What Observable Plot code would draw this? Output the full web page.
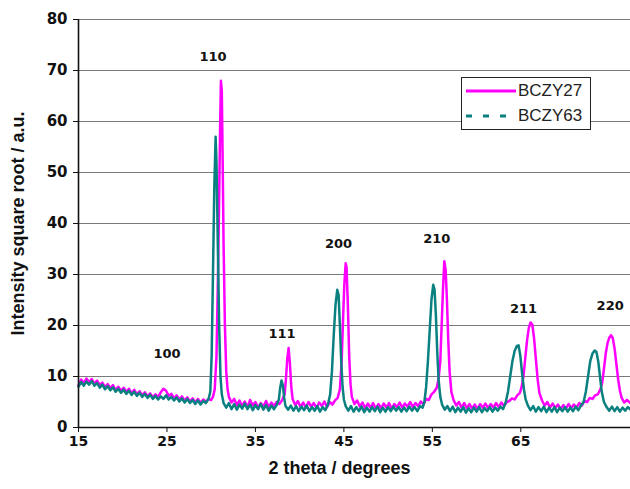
<!DOCTYPE html>
<html>
<head>
<meta charset="utf-8">
<script src="https://cdn.jsdelivr.net/npm/d3@7"></script>
<script src="https://cdn.jsdelivr.net/npm/@observablehq/plot@0.6"></script>
<style>
  html, body { margin: 0; padding: 0; background: #fff; }
  #wrap { position: relative; width: 630px; height: 489px; overflow: hidden; }
  #legend { position: absolute; left: 461px; top: 77px; width: 128px; height: 51px; border: 1px solid #222; background: #fff; font: 17px "Liberation Sans", Arial, sans-serif; color: #222; }
  #legend .row { position: absolute; left: 0; height: 20px; display: flex; align-items: center; }
  #legend svg { display: block; }
</style>
</head>
<body>
<div id="wrap">
  <div id="chart"></div>
  <div id="legend"></div>
</div>
<script>
// ---- data ----
const seriesNames = ["BCZY27", "BCZY63"];
const seriesColors = ["#ff00ff", "#0a8080"];

const bczy27 = [
  [15.0,8.3],[15.3,9.4],[15.6,8.7],[15.9,9.6],[16.2,8.9],[16.5,9.5],[16.8,8.6],[17.1,9.2],[17.4,8.3],[17.7,8.8],
  [18.0,7.9],[18.3,8.5],[18.6,7.7],[18.9,8.3],[19.2,7.4],[19.5,8.0],[19.8,7.2],[20.1,7.8],[20.4,7.0],[20.7,7.6],
  [21.0,6.7],[21.3,7.4],[21.6,6.5],[21.9,7.1],[22.2,6.3],[22.5,6.9],[22.8,6.1],[23.1,6.7],[23.4,5.9],[23.7,6.5],
  [24.0,6.0],[24.3,6.9],[24.6,7.6],[24.9,7.2],[25.2,6.2],[25.5,6.6],[25.8,5.7],[26.1,6.3],[26.4,5.5],[26.7,6.1],
  [27.0,5.3],[27.3,5.9],[27.6,5.1],[27.9,5.7],[28.2,4.9],[28.5,5.6],[28.8,4.8],[29.1,5.5],[29.4,5.0],[29.7,5.6],
  [30.0,5.4],[30.2,6.0],[30.4,7.5],[30.6,14],[30.75,28],[30.9,45],[31.0,58],[31.1,68],[31.2,66],[31.3,52],
  [31.4,36],[31.55,20],[31.7,11],[31.85,7.5],[32.0,6.0],[32.3,4.9],[32.6,5.6],[32.9,4.4],[33.2,5.3],[33.5,4.2],
  [33.8,5.1],[34.1,4.0],[34.4,5.4],[34.7,4.3],[35.0,5.0],[35.3,3.9],[35.6,4.8],[35.9,4.1],[36.2,5.2],[36.5,4.0],
  [36.8,4.9],[37.1,4.2],[37.4,5.0],[37.7,4.6],[38.0,5.3],[38.3,6.5],[38.45,9.5],[38.6,13.5],[38.75,15.6],[38.9,12.5],
  [39.05,8.0],[39.2,5.6],[39.5,4.4],[39.8,5.2],[40.1,4.0],[40.4,4.9],[40.7,3.9],[41.0,5.0],[41.3,4.1],[41.6,4.8],
  [41.9,3.8],[42.2,4.9],[42.5,4.2],[42.8,5.1],[43.1,4.0],[43.4,5.0],[43.7,4.5],[44.0,5.3],[44.3,5.8],[44.55,7.5],
  [44.75,13],[44.9,21],[45.05,28],[45.2,32.2],[45.3,31.5],[45.45,24],[45.6,14],[45.75,8.5],[45.9,6.0],[46.2,4.6],
  [46.5,5.3],[46.8,4.1],[47.1,4.9],[47.4,3.8],[47.7,4.7],[48.0,3.9],[48.3,4.8],[48.6,3.7],[48.9,4.6],[49.2,3.8],
  [49.5,4.7],[49.8,3.9],[50.1,4.8],[50.4,3.7],[50.7,4.6],[51.0,4.0],[51.3,4.9],[51.6,3.9],[51.9,4.7],[52.2,4.1],
  [52.5,5.0],[52.8,4.0],[53.1,4.8],[53.4,4.2],[53.7,5.1],[54.0,4.5],[54.3,5.6],[54.6,5.4],[54.9,6.5],[55.2,7.0],
  [55.5,7.8],[55.7,9.5],[55.9,13],[56.05,20],[56.2,27],[56.35,32.6],[56.5,31],[56.65,25],[56.8,17],[56.95,11],
  [57.15,7],[57.4,5.4],[57.7,4.3],[58.0,5.0],[58.3,3.9],[58.6,4.8],[58.9,3.8],[59.2,4.6],[59.5,3.7],[59.8,4.5],
  [60.1,3.6],[60.4,4.6],[60.7,3.9],[61.0,4.7],[61.3,3.8],[61.6,4.6],[61.9,3.9],[62.2,4.8],[62.5,4.0],[62.8,4.9],
  [63.1,4.2],[63.4,5.0],[63.7,5.2],[64.0,5.7],[64.3,5.5],[64.6,6.3],[64.9,6.8],[65.1,8.0],[65.3,10],[65.5,13.5],
  [65.7,17],[65.9,19.5],[66.1,20.6],[66.3,20.2],[66.5,17.5],[66.7,13.5],[66.9,9.5],[67.1,6.8],[67.4,5.3],[67.7,4.3],
  [68.0,5.0],[68.3,3.9],[68.6,4.7],[68.9,3.8],[69.2,4.5],[69.5,3.6],[69.8,4.4],[70.1,3.7],[70.4,4.6],[70.7,3.8],
  [71.0,4.5],[71.3,3.9],[71.6,4.8],[71.9,4.3],[72.2,5.2],[72.5,5.0],[72.8,5.8],[73.1,5.6],[73.4,6.3],[73.7,6.5],
  [74.0,7.5],[74.2,8.8],[74.4,11.5],[74.6,14.5],[74.8,16.5],[75.0,17.6],[75.2,18.1],[75.4,17.5],[75.6,15.5],[75.8,12.5],
  [76.0,9.5],[76.2,7.2],[76.4,5.8],[76.7,4.9],[77.0,5.4],[77.4,4.8]
];

const bczy63 = [
  [15.0,8.0],[15.3,8.9],[15.6,8.2],[15.9,9.0],[16.2,8.4],[16.5,9.1],[16.8,8.2],[17.1,8.7],[17.4,7.8],[17.7,8.4],
  [18.0,7.5],[18.3,8.1],[18.6,7.3],[18.9,7.9],[19.2,7.0],[19.5,7.6],[19.8,6.8],[20.1,7.4],[20.4,6.6],[20.7,7.2],
  [21.0,6.4],[21.3,7.0],[21.6,6.2],[21.9,6.8],[22.2,6.0],[22.5,6.6],[22.8,5.8],[23.1,6.4],[23.4,5.6],[23.7,6.2],
  [24.0,5.5],[24.3,6.1],[24.6,5.6],[24.9,6.3],[25.2,5.5],[25.5,6.0],[25.8,5.3],[26.1,5.9],[26.4,5.1],[26.7,5.7],
  [27.0,4.9],[27.3,5.6],[27.6,4.8],[27.9,5.4],[28.2,4.6],[28.5,5.3],[28.8,4.5],[29.1,5.2],[29.4,4.8],[29.7,5.6],
  [29.9,7],[30.05,14],[30.2,30],[30.35,47],[30.5,57],[30.6,52],[30.75,36],[30.9,20],[31.05,10],[31.2,6.5],
  [31.4,4.8],[31.7,3.9],[32.0,4.8],[32.3,3.6],[32.6,4.6],[32.9,3.5],[33.2,4.5],[33.5,3.7],[33.8,4.7],[34.1,3.6],
  [34.4,4.5],[34.7,3.4],[35.0,4.4],[35.3,3.6],[35.6,4.6],[35.9,3.5],[36.2,4.4],[36.5,3.3],[36.8,4.3],[37.1,3.6],
  [37.4,4.4],[37.65,5.5],[37.8,7.8],[37.95,9.2],[38.1,8.3],[38.25,5.8],[38.4,4.2],[38.7,3.5],[39.0,4.3],[39.3,3.3],
  [39.6,4.2],[39.9,3.2],[40.2,4.1],[40.5,3.4],[40.8,4.3],[41.1,3.2],[41.4,4.0],[41.7,3.3],[42.0,4.2],[42.3,3.1],
  [42.6,4.0],[42.9,3.4],[43.2,4.5],[43.45,6.5],[43.65,11],[43.85,18],[44.05,24],[44.25,27],[44.4,26],[44.55,20],
  [44.7,13],[44.85,8],[45.0,5.5],[45.2,4.2],[45.5,3.3],[45.8,4.2],[46.1,3.1],[46.4,4.0],[46.7,3.2],[47.0,4.1],
  [47.3,3.0],[47.6,3.9],[47.9,3.1],[48.2,4.0],[48.5,3.2],[48.8,4.1],[49.1,3.0],[49.4,3.9],[49.7,3.1],[50.0,4.0],
  [50.3,3.2],[50.6,4.1],[50.9,3.3],[51.2,4.0],[51.5,3.1],[51.8,3.9],[52.1,3.2],[52.4,4.1],[52.7,3.3],[53.0,4.0],
  [53.3,3.2],[53.6,4.2],[53.9,3.9],[54.1,5],[54.3,8],[54.5,13],[54.7,19],[54.9,25],[55.1,28],[55.25,27],
  [55.4,22],[55.55,15],[55.7,9.5],[55.9,6],[56.1,4.5],[56.4,3.5],[56.7,4.2],[57.0,3.2],[57.3,4.1],[57.6,3.0],
  [57.9,3.9],[58.2,3.1],[58.5,4.0],[58.8,2.9],[59.1,3.8],[59.4,3.0],[59.7,3.9],[60.0,3.1],[60.3,4.0],[60.6,3.0],
  [60.9,3.8],[61.2,3.2],[61.5,4.0],[61.8,3.1],[62.1,3.9],[62.4,3.3],[62.7,4.1],[63.0,3.6],[63.3,5],[63.55,7],
  [63.8,10],[64.05,13],[64.3,15],[64.55,16],[64.75,16.1],[64.95,14],[65.15,10.5],[65.35,7.5],[65.55,5.5],[65.8,4.3],
  [66.1,3.4],[66.4,4.2],[66.7,3.1],[67.0,4.0],[67.3,3.2],[67.6,4.1],[67.9,3.0],[68.2,3.9],[68.5,3.1],[68.8,4.0],
  [69.1,3.0],[69.4,3.9],[69.7,3.2],[70.0,4.0],[70.3,3.1],[70.6,3.9],[70.9,3.2],[71.2,4.1],[71.5,3.4],[71.8,4.3],
  [72.1,5],[72.35,7],[72.6,10],[72.85,13],[73.1,14.5],[73.35,15.1],[73.55,14.8],[73.75,13],[73.95,10],[74.15,7],
  [74.4,5],[74.7,4.0],[75.0,3.3],[75.3,4.1],[75.6,3.2],[75.9,4.0],[76.2,3.1],[76.5,3.9],[76.8,3.3],[77.1,4.0],[77.4,3.5]
];

const xTicks = [15, 25, 35, 45, 55, 65];
const yTicks = [0, 10, 20, 30, 40, 50, 60, 70, 80];
const gridValues = [10, 20, 30, 40, 50, 60, 70, 80];

const peakLabels = ["100", "110", "111", "200", "210", "211", "220"];
const peakX = [25.0, 30.2, 38.0, 44.4, 55.5, 65.3, 75.1];
const peakY = [14.5, 72.6, 18.4, 36.1, 37.0, 23.3, 23.9];

const xTitle = "2 theta / degrees";
const yTitle = "Intensity square root / a.u.";

// ---- build tables ----
const toRows = (arr, name) => arr.map(([x, y]) => ({x, y, series: name}));
const rows27 = toRows(bczy27, seriesNames[0]);
const rows63 = toRows(bczy63, seriesNames[1]);
const peaks = peakLabels.map((t, i) => ({t, x: peakX[i], y: peakY[i]}));

const chart = Plot.plot({
  width: 630,
  height: 489,
  marginLeft: 78,
  marginRight: 0,
  marginTop: 19,
  marginBottom: 62,
  x: {domain: [15, 77.4]},
  y: {domain: [0, 80]},
  style: {background: "#fff", fontFamily: "'Liberation Sans', Arial, sans-serif", overflow: "visible"},
  marks: [
    Plot.ruleY(gridValues, {stroke: "#7a7a7a", strokeWidth: 1}),
    Plot.line(rows27, {x: "x", y: "y", stroke: seriesColors[0], strokeWidth: 2.5}),
    Plot.line(rows63, {x: "x", y: "y", stroke: seriesColors[1], strokeWidth: 2.5}),
    Plot.ruleX([15], {stroke: "#111", strokeWidth: 1.6}),
    Plot.ruleY([0], {stroke: "#111", strokeWidth: 1.6}),
    Plot.axisY({ticks: yTicks, tickSize: 5, tickPadding: 6, label: null, stroke: "#111",
      fontFamily: "DejaVu Sans", fontWeight: "bold", fontSize: 15, fill: "#111"}),
    Plot.axisX({ticks: xTicks, tickSize: 5, tickPadding: 4, label: null, stroke: "#111",
      fontFamily: "DejaVu Sans", fontWeight: "bold", fontSize: 14, fill: "#111"}),
    Plot.text(peaks, {x: "x", y: "y", text: "t", fontFamily: "DejaVu Sans", fontWeight: "bold",
      fontSize: 13, fill: "#111"}),
    Plot.text([yTitle], {frameAnchor: "left", textAnchor: "middle", dx: -60, rotate: -90, fontSize: 18,
      fontWeight: "bold", fill: "#111"}),
    Plot.text([xTitle], {frameAnchor: "bottom", textAnchor: "middle", dx: -15, dy: 46, fontSize: 18,
      fontWeight: "bold", fill: "#111"})
  ]
});
document.getElementById("chart").appendChild(chart);

// ---- legend ----
const legend = document.getElementById("legend");
seriesNames.forEach((name, i) => {
  const row = document.createElement("div");
  row.className = "row";
  row.style.top = (i === 0 ? 3 : 28) + "px";
  const sw = d3.create("svg").attr("width", 56).attr("height", 20);
  sw.append("line").attr("x1", 4).attr("x2", 54).attr("y1", 10).attr("y2", 10)
    .attr("stroke", seriesColors[i]).attr("stroke-width", 3)
    .attr("stroke-dasharray", i === 0 ? null : "6,11");
  row.appendChild(sw.node());
  const label = document.createElement("span");
  label.textContent = name;
  row.appendChild(label);
  legend.appendChild(row);
});
</script>
</body>
</html>
